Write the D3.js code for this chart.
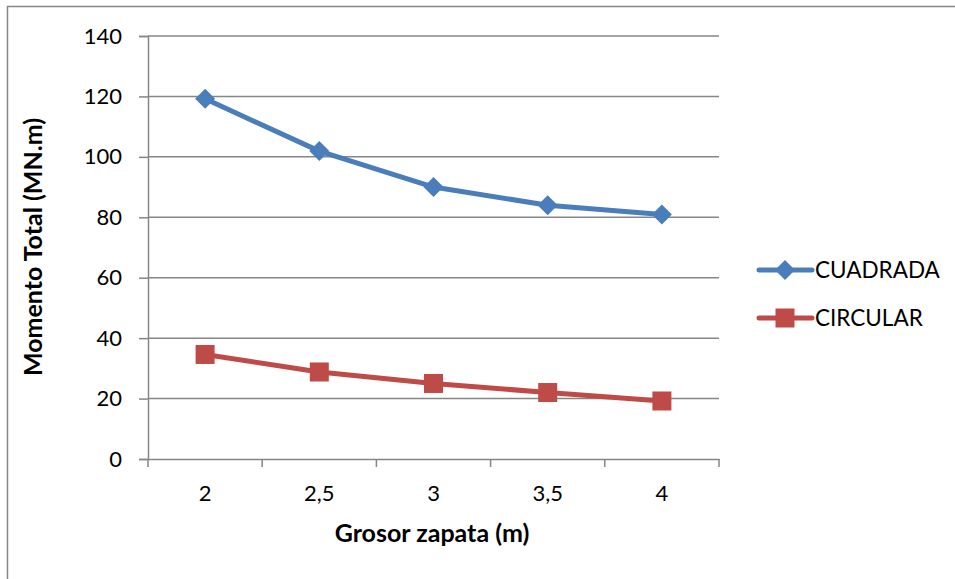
<!DOCTYPE html>
<html>
<head>
<meta charset="utf-8">
<script src="https://cdn.jsdelivr.net/npm/d3@7"></script>
<style>
  html, body { margin: 0; padding: 0; background: #fff; }
  svg { display: block; font-family: Lato, "Open Sans", sans-serif; }
</style>
</head>
<body>
<svg id="chart" width="955" height="579"></svg>
<script>
// Footing thickness categories and total moment per footing shape
const categories = ["2", "2,5", "3", "3,5", "4"];
const cuadrada = [119.2, 101.9, 90.0, 84.0, 80.9];
const circular = [34.6, 28.8, 25.0, 22.0, 19.2];
const yTicks = [0, 20, 40, 60, 80, 100, 120, 140];

const seriesList = [
  { name: "CUADRADA", values: cuadrada, color: "#4a7ebb", shape: "diamond" },
  { name: "CIRCULAR", values: circular, color: "#be4b48", shape: "square" }
];

const svg = d3.select("#chart");
const plot = { left: 148, right: 719, top: 36, bottom: 459 };
const gridColor = "#868686";
const tickFont = 22;

// Outer chart frame
svg.append("rect")
  .attr("x", 7.5).attr("y", 6.5)
  .attr("width", 1000).attr("height", 1000)
  .attr("fill", "none").attr("stroke", gridColor).attr("stroke-width", 1.5);

const x = d3.scaleBand().domain(categories).range([plot.left, plot.right]);
const y = d3.scaleLinear().domain([0, 140]).range([plot.bottom, plot.top]);

// Horizontal gridlines
svg.append("g").selectAll("line")
  .data(yTicks.filter(t => t > 0))
  .join("line")
  .attr("x1", plot.left).attr("x2", plot.right)
  .attr("y1", d => y(d)).attr("y2", d => y(d))
  .attr("stroke", gridColor).attr("stroke-width", 1.5);

// Y axis
const yAxis = svg.append("g")
  .attr("transform", `translate(${plot.left},0)`)
  .call(d3.axisLeft(y).tickValues(yTicks).tickSize(9).tickPadding(17).tickFormat(d3.format("d")));
yAxis.select(".domain").attr("stroke", gridColor).attr("stroke-width", 1.5);
yAxis.selectAll(".tick line").attr("stroke", gridColor).attr("stroke-width", 1.5);
yAxis.selectAll(".tick text")
  .attr("font-size", tickFont).attr("fill", "#000").attr("font-family", "Lato, sans-serif");

// X axis with tick marks at category boundaries
const xAxis = svg.append("g")
  .attr("transform", `translate(0,${plot.bottom})`)
  .call(d3.axisBottom(x).tickSize(0).tickPadding(26));
xAxis.select(".domain").attr("stroke", gridColor).attr("stroke-width", 1.5);
xAxis.selectAll(".tick text")
  .attr("font-size", tickFont).attr("fill", "#000").attr("font-family", "Lato, sans-serif");
const boundaries = categories.map(c => x(c)).concat([x(categories[categories.length - 1]) + x.bandwidth()]);
svg.append("g").selectAll("line")
  .data(boundaries)
  .join("line")
  .attr("x1", d => d).attr("x2", d => d)
  .attr("y1", plot.bottom).attr("y2", plot.bottom + 8)
  .attr("stroke", gridColor).attr("stroke-width", 1.5);

// Axis titles
svg.append("text")
  .attr("x", 432).attr("y", 542)
  .attr("text-anchor", "middle").attr("font-size", 25).attr("font-weight", "bold")
  .text("Grosor zapata (m)");
svg.append("text")
  .attr("transform", `translate(42,247) rotate(-90)`)
  .attr("text-anchor", "middle").attr("font-size", 25).attr("font-weight", "bold")
  .text("Momento Total (MN.m)");

const cx = c => x(c) + x.bandwidth() / 2;

function drawMarker(g, shape, color, px, py, s) {
  if (shape === "diamond") {
    g.append("path")
      .attr("d", `M${px},${py - s}L${px + s},${py}L${px},${py + s}L${px - s},${py}Z`)
      .attr("fill", color);
  } else {
    g.append("rect")
      .attr("x", px - s).attr("y", py - s)
      .attr("width", 2 * s).attr("height", 2 * s)
      .attr("fill", color);
  }
}

// Series lines and markers
seriesList.forEach(s => {
  const line = d3.line().x((d, i) => cx(categories[i])).y(d => y(d));
  svg.append("path")
    .datum(s.values)
    .attr("d", line)
    .attr("fill", "none").attr("stroke", s.color)
    .attr("stroke-width", 5).attr("stroke-linejoin", "round");
  const g = svg.append("g");
  s.values.forEach((v, i) => {
    drawMarker(g, s.shape, s.color, cx(categories[i]), y(v), s.shape === "diamond" ? 10 : 9.5);
  });
});

// Legend
const legend = svg.append("g");
seriesList.forEach((s, i) => {
  const ly = 270 + i * 48;
  legend.append("line")
    .attr("x1", 759).attr("x2", 812).attr("y1", ly).attr("y2", ly)
    .attr("stroke", s.color).attr("stroke-width", 5).attr("stroke-linecap", "round");
  drawMarker(legend, s.shape, s.color, 785, ly, s.shape === "diamond" ? 10 : 9.5);
  legend.append("text")
    .attr("x", 815).attr("y", ly + 8)
    .attr("font-size", 22.5).attr("fill", "#000")
    .text(s.name);
});
</script>
</body>
</html>
